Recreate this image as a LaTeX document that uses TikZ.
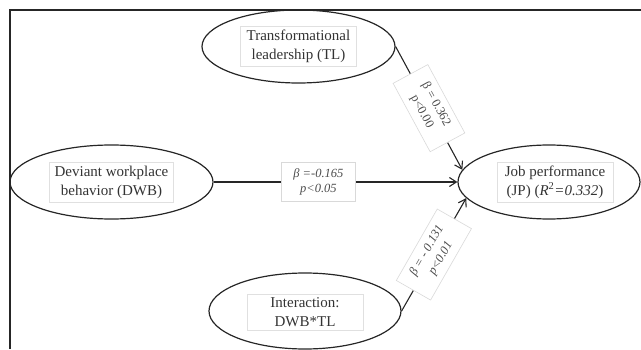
\documentclass[tikz,border=0pt]{standalone}
\usepackage{fontspec}
\setmainfont{Liberation Serif}
\usetikzlibrary{shapes.geometric,arrows.meta}

\tikzset{
  latent/.style={draw=black!85, line width=1.2pt, ellipse, inner sep=0pt},
  txtbox/.style={draw=black!12, line width=0.6pt, inner sep=3.5pt, minimum width=116pt,
    align=center, text=black!80, font=\fontsize{15}{19}\selectfont},
  coef/.style={draw=black!15, fill=white, line width=0.6pt, inner xsep=12pt, inner ysep=6pt,
    align=center, text=black!70, font=\fontsize{12.5}{15}\selectfont\itshape},
  effect/.style={draw=black!85, line width=1.1pt, -{Straight Barb[length=7pt,width=9pt]}}
}

\begin{document}
\begin{tikzpicture}[x=1pt,y=1pt]
   \useasboundingbox (0,0) rectangle (641,349);
   \draw[line width=2pt, black!85] (10,0) -- (10,339) -- (641,339);

   \node[latent, minimum width=193pt, minimum height=73pt] (tl) at (298.5,302.5) {};
   \node[latent, minimum width=203pt, minimum height=74pt] (dwb) at (111.5,167) {};
   \node[latent, minimum width=182pt, minimum height=74pt] (jp) at (549,167) {};
   \node[latent, minimum width=192pt, minimum height=76pt] (int) at (305,38) {};
   %%%%%%%%%%
   \node[txtbox] (tltxt) at (tl) {Transformational\\leadership (TL)};
   \node[txtbox, minimum width=124pt] (dwbtxt) at (dwb) {Deviant workplace\\behavior (DWB)};
   \node[txtbox] (jptxt) at ([xshift=6pt]jp.center) {Job performance\\(JP) (\textit{R}\textsuperscript{2}\textit{=0.332})};
   \node[txtbox] (inttxt) at ([yshift=-1pt]int.center) {Interaction:\\DWB*TL};
   %%%%%%%%%%
   \draw[effect] (tl.east) -- node[coef, sloped, inner xsep=15pt, font=\fontsize{12.5}{16}\selectfont] (b1) {β = 0.362\\p<0.00} (jp.172);
   \draw[effect] (dwb.east) -- node[coef, pos=0.43] (b2) {β =-0.165\\p<0.05} (jp.west);
   \draw[effect] (int.east) -- node[coef, sloped, inner xsep=13pt, font=\fontsize{12.5}{16}\selectfont\itshape] (b3) {β = - 0.131\\p<0.01} (jp.191);
\end{tikzpicture}
\end{document}
